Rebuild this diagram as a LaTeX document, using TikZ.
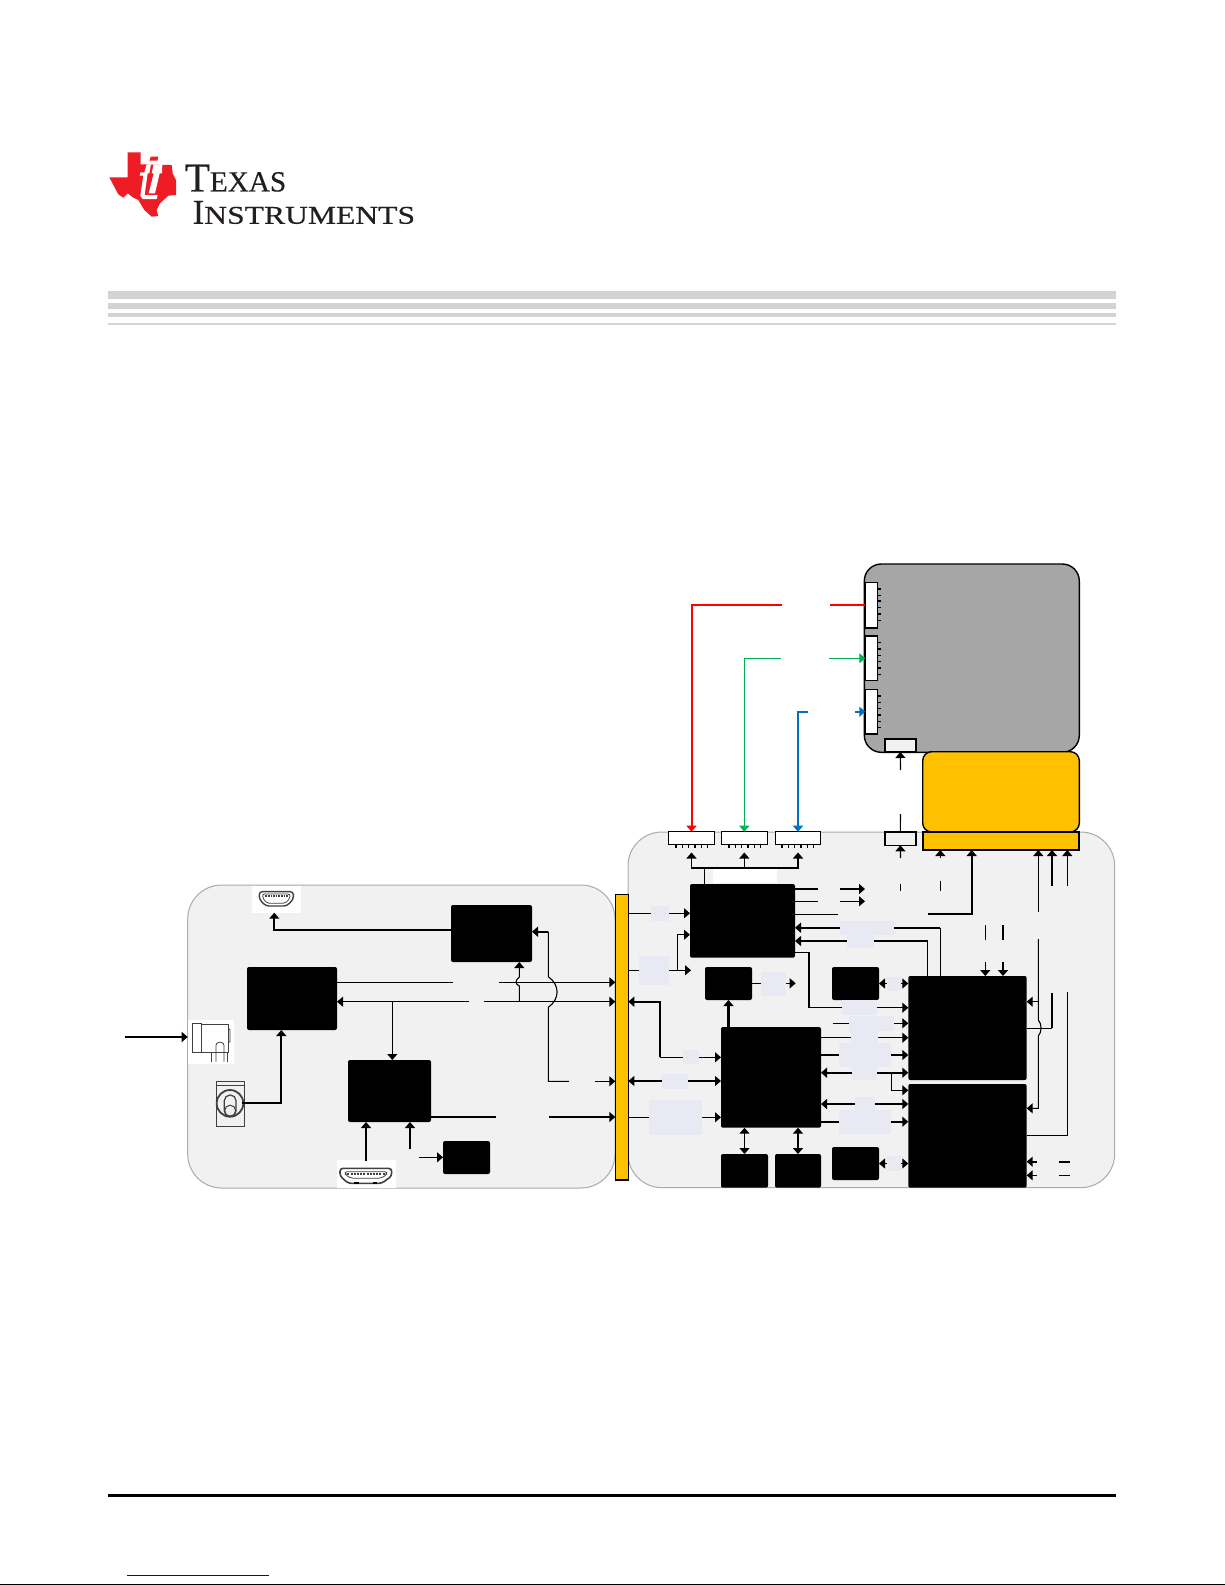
\documentclass[tikz,border=0pt]{standalone}
\usepackage{graphicx}
\usepackage{fontspec}
\setmainfont{Liberation Serif}
\newfontfamily\logofont[FakeBold=0.35]{Liberation Serif}
\usetikzlibrary{arrows.meta}
\definecolor{lav}{HTML}{E9E9F3}
\definecolor{panelfill}{HTML}{F1F1F1}
\definecolor{paneledge}{HTML}{ABABAB}
\definecolor{rulegrey}{HTML}{D3D3D3}
\definecolor{tired}{HTML}{EE1C25}
\definecolor{linkblue}{HTML}{0000D0}
\definecolor{amber}{HTML}{FFC000}
\definecolor{boardgrey}{HTML}{A6A6A6}
\definecolor{wirered}{HTML}{FF0000}
\definecolor{wiregreen}{HTML}{00B050}
\definecolor{wireblue}{HTML}{0070C0}
\definecolor{logotext}{HTML}{231F20}
\newcommand{\bx}[6][]{\node[boxbase,#1,minimum width={(#4-#2)*0.5pt},minimum height={(#5-#3)*0.5pt}] (#6) at ({(#2+#4)/2},{(#3+#5)/2}) {};}
\newcommand{\lavbox}[5]{\node[boxbase,fill=lav,minimum width={(#4-#2)*0.5pt},minimum height={(#5-#3)*0.5pt}] (#1) at ({(#2+#4)/2},{(#3+#5)/2}) {};}
\tikzset{
  boxbase/.style={rectangle,inner sep=0pt,outer sep=0pt},
  chip/.style={fill=black,rounded corners=1pt},
  panel/.style={fill=panelfill,draw=paneledge,line width=0.5pt,rounded corners=17pt},
  conn/.style={fill=white,draw=black,line width=0.7pt},
  grayconn/.style={fill=panelfill,draw=black,line width=0.8pt},
  ln/.style={line width=0.55pt,black},
  lnb/.style={line width=0.9pt,black},
  icon/.style={line width=0.4pt,black!75},
  wr/.style={line width=1pt,wirered},
  wg/.style={line width=0.6pt,wiregreen},
  wb/.style={line width=1pt,wireblue},
  >={Triangle[length=3pt,width=5pt]},
}
\begin{document}
\begin{tikzpicture}[x=0.5pt,y=-0.5pt]
\useasboundingbox (0,0) rectangle (1225,1585);
\fill[white] (0,0) rectangle (1225,1585);

% logo
\begin{scope}[shift={(105,145)},scale=1/3]
\fill[tired] (68,22) -- (107,22) -- (107,58) -- (200,60) -- (203,85) -- (213,105) -- (213,150) -- (190,152) -- (165,175) -- (155,195) -- (160,213) -- (140,215) -- (118,195) -- (100,165) -- (85,158) -- (68,145) -- (55,158) -- (40,148) -- (13,97) -- (68,97) -- cycle;
\fill[tired] (137,35) -- (160,35) -- (157,47) -- (134,47) -- cycle;
\fill[white] (125,58) -- (138,58) -- (133,85) -- (128,85) -- (119,150) -- (158,150) -- (155,162) -- (113,162) -- (106,152) -- (115,92) -- (104,92) -- (106,82) -- (118,82) -- cycle;
\fill[white] (146,58) -- (172,58) -- (171,85) -- (164,85) -- (150,145) -- (131,145) -- (146,85) -- (140,85) -- cycle;
\end{scope}
\node[boxbase,anchor=south west,align=left,text=logotext,font=\logofont\fontsize{12.8pt}{16.15pt}\selectfont] (logotxt) at (185,224)
  {{\fontsize{20.4pt}{16.15pt}\selectfont T}{\fontsize{14.6pt}{16.15pt}\selectfont EXAS}\\
   \hspace*{3.85pt}{\fontsize{17.4pt}{16.15pt}\selectfont I}\scalebox{1.235}[1]{NSTRUMENTS}};

% top grey rules
\fill[rulegrey] (108,291) rectangle (1116,299);
\fill[rulegrey] (108,303) rectangle (1116,309);
\fill[rulegrey] (108,313) rectangle (1116,317);
\fill[rulegrey] (108,323) rectangle (1116,324.7);

% footer
\fill[black] (108,1494) rectangle (1116,1497);
\fill[linkblue] (127,1574.5) rectangle (269,1575.7);
\fill[black] (0,1584) rectangle (1225,1585);

% panels
\bx[panel]{187.7}{885}{615}{1188}{leftpanel}
\bx[panel]{628}{832}{1114.7}{1187.7}{rightpanel}

% free ends of the broken connectors
\coordinate (redA) at (830,605);
\coordinate (redB) at (782,605);
\coordinate (redC) at (691.5,605);
\coordinate (grnA) at (829,658.3);
\coordinate (grnB) at (781,658.3);
\coordinate (grnC) at (744.3,658.3);
\coordinate (bluA) at (855,711.7);
\coordinate (bluB) at (808,711.7);
\coordinate (bluC) at (798,711.7);
\coordinate (upA) at (900.5,770);
\coordinate (upB) at (900.5,814);
\coordinate (upC) at (900.5,858);
\coordinate (upD) at (900.5,884);
\coordinate (upE) at (900.5,890.7);
\coordinate (pA) at (940.3,858);
\coordinate (pB) at (940.3,880.7);
\coordinate (pC) at (940.3,890.7);
\coordinate (qA) at (1038.3,911.7);
\coordinate (qB) at (1038.3,939);
\coordinate (rA) at (1052,885.7);
\coordinate (rB) at (1052,993.3);
\coordinate (sA) at (1067.3,885.7);
\coordinate (sB) at (1067.3,992);
\coordinate (tA) at (985.3,925);
\coordinate (tB) at (985.3,940);
\coordinate (tC) at (985.3,962.3);
\coordinate (uA) at (1003,925);
\coordinate (uB) at (1003,940);
\coordinate (uC) at (1003,962.3);
\coordinate (vA) at (1036.7,1161.7);
\coordinate (vB) at (1059.3,1161.7);
\coordinate (vC) at (1070,1161.7);
\coordinate (wA) at (1036.7,1175.3);
\coordinate (wB) at (1059.3,1175.3);
\coordinate (wC) at (1070,1175.3);
\coordinate (aA) at (818,889);
\coordinate (aB) at (840,889);
\coordinate (aC) at (865,889);
\coordinate (bA) at (818,901.3);
\coordinate (bB) at (840,901.3);
\coordinate (bC) at (865,901.3);
\coordinate (cA) at (837.7,914.3);
\coordinate (cB) at (928.3,914.3);
\coordinate (dA) at (833,1023.3);
\coordinate (ePw) at (124.7,1037);
\coordinate (fA) at (453.3,982.3);
\coordinate (fB) at (499.3,982.3);
\coordinate (gA) at (469,1001.7);
\coordinate (gB) at (484,1001.7);
\coordinate (hA) at (569,1081.3);
\coordinate (hB) at (595,1081.3);
\coordinate (iA) at (495.7,1117);
\coordinate (iB) at (549,1117);
\coordinate (jA) at (366,1161);
\coordinate (kA) at (410,1148.7);
\coordinate (lA) at (419,1157.3);
\coordinate (mA) at (241.7,1103.3);
\coordinate (nA) at (795.7,983.3);
\coordinate (oA) at (691,970.3);

% grey board and yellow module
\bx[fill=boardgrey,draw=black,line width=0.7pt,rounded corners=8.5pt]{864.3}{564}{1079.3}{752.3}{board}
\bx[fill=amber,draw=black,line width=0.7pt,rounded corners=4.5pt]{922.7}{751.7}{1079.3}{832}{module}
\bx[fill=amber,draw=black,line width=1pt]{922.7}{832}{1079.3}{850}{strip}
\bx[fill=amber,draw=black,line width=0.6pt]{615.3}{894.3}{628.3}{1180}{bar}

% board connectors with pins
\bx[conn]{865.3}{582.3}{877.7}{628}{cbA}
\bx[conn]{865.3}{636}{877.7}{680.7}{cbB}
\bx[conn]{865.3}{689.3}{877.7}{734}{cbC}
\foreach \yy/\ww in {588.7/0.9,595/0.5,601.3/0.9,607.7/0.5,614/0.9,620.3/0.5,
                     642.3/0.5,648.7/0.9,655/0.5,661.3/0.5,667.7/0.9,674/0.5,
                     695.7/0.9,702/0.5,708.3/0.5,714.7/0.9,721/0.5,727.3/0.5}
  \draw[line width=\ww pt] (877.7,\yy) -- (881,\yy);
\bx[grayconn]{884.7}{738.7}{916}{752}{cbD}

% main board connectors with pins
\bx[conn]{668.3}{831.7}{714.7}{844.7}{mcA}
\bx[conn]{721.3}{831.7}{767.3}{844.7}{mcB}
\bx[conn]{775.3}{831.7}{820.7}{844.7}{mcC}
\foreach \st in {676,729,782}
  \foreach \ii in {0,...,5}
    \draw[line width=0.6pt] ({\st+6.3*\ii},844.7) -- ({\st+6.3*\ii},848.3);
\bx[grayconn]{884.7}{831.7}{916}{845.3}{mcD}

% chips
\bx[chip]{690}{884}{795}{957.7}{chipA}
\bx[chip]{705}{967}{752}{1000}{chipB}
\bx[chip]{832}{967}{879}{1000}{chipC}
\bx[chip]{721}{1027}{821}{1127.7}{chipD}
\bx[chip]{721}{1154}{768}{1187.7}{chipE}
\bx[chip]{775}{1154}{821}{1187.7}{chipF}
\bx[chip]{832}{1147}{879}{1180}{chipG}
\bx[chip]{908.3}{976}{1026.7}{1080}{procA}
\bx[chip]{908.3}{1084}{1026.7}{1187.7}{procB}
\bx[chip]{247}{967}{337}{1030}{chipP}
\bx[chip]{348}{1060}{431}{1122}{chipQ}
\bx[chip]{451}{905}{532}{962}{chipR}
\bx[chip]{443}{1141}{490}{1174}{chipS}
\bx[fill=white]{713}{869.3}{777}{883.3}{whitetag}

% wires between boards
\draw[wr] (cbA.west |- redA) -- (redA);
\draw[wr,->] (redB) -- (redC) -- (mcA.north);
\draw[wg,->] (grnA) -- (cbB.west |- grnA);
\draw[wg,->] (grnB) -- (grnC) -- (mcB.north);
\draw[wb,->] (bluA) -- (cbC.west |- bluA);
\draw[wb,->] (bluB) -- (bluC) -- (mcC.north);
\draw[ln,->] (upA) -- (cbD.south);
\draw[ln] (upB) -- (mcD.north);
\draw[ln,->] (upC) -- (mcD.south);
\draw[ln] (upD) -- (upE);

% right panel: connections to module strip
\draw[ln,->] (pA) -- (strip.south -| pA);
\draw[ln] (pB) -- (pC);
\draw[lnb,->] (cB) -- (971.7,914.3) -- (strip.south -| 971.7,0);
\draw[ln,->] (qA) -- (strip.south -| qA);
\draw[lnb,->] (rA) -- (strip.south -| rA);
\draw[ln,->] (sA) -- (strip.south -| sA);
\draw[ln,->] (qB) -- (1038.3,1020) .. controls (1042,1024) and (1042,1032) .. (1038.3,1036) -- (1038.3,1108.3) -- (procB.east |- 0,1108.3);
\draw[ln,->] (1038.3,1001.7) -- (procA.east |- 0,1001.7);
\draw[lnb] (rB) -- (1052,1028.3);
\draw[ln] (1052,1028.3) -- (procA.east |- 0,1028.3);
\draw[ln] (sB) -- (1067.3,1135.3) -- (procB.east |- 0,1135.3);
\draw[lnb,->] (vA) -- (procB.east |- vA);
\draw[lnb] (vB) -- (vC);
\draw[ln,->] (wA) -- (procB.east |- wA);
\draw[ln] (wB) -- (wC);
\draw[ln] (tA) -- (tB);
\draw[ln,->] (tC) -- (procA.north -| tC);
\draw[lnb] (uA) -- (uB);
\draw[lnb,->] (uC) -- (procA.north -| uC);

% right panel: chip A
\draw[lnb,<->] (mcA.south |- 0,852.5) -- (mcA.south |- 0,867.7) -- (mcC.south |- 0,867.7) -- (mcC.south |- 0,852.5);
\draw[ln,->] (mcB.south |- 0,867.7) -- (mcB.south |- 0,852.5);
\draw[ln] (chipA.north -| 704.3,0) -- (704.3,867.7);
\draw[lnb] (chipA.east |- aA) -- (aA);
\draw[lnb,->] (aB) -- (aC);
\draw[ln] (chipA.east |- bA) -- (bA);
\draw[ln,->] (bB) -- (bC);
\draw[ln] (chipA.east |- cA) -- (cA);
\draw[lnb,<-] (chipA.east |- 0,927.7) -- (940.3,927.7);
\draw[ln] (940.3,927.7) -- (procA.north -| 940.3,0);
\draw[ln,<-] (chipA.east |- 0,941) -- (927.3,941) -- (procA.north -| 927.3,0);
\draw[ln,->] (chipA.east |- 0,952.3) -- (809,952.3) -- (809,1007.7) -- (procA.west |- 0,1007.7);
\draw[ln,->] (bar.east |- 0,913.3) -- (chipA.west |- 0,913.3);
\draw[ln,->] (bar.east |- oA) -- (oA);
\draw[ln,->] (677.3,970.3) -- (677.3,934.7) -- (chipA.west |- 0,934.7);

% right panel: chip B, C, G, D
\draw[line width=1.1pt,->] (chipD.north -| chipB.south) -- (chipB.south);
\draw[ln,->] (chipB.east |- nA) -- (nA);
\draw[ln,<->] (chipC.east) -- (procA.west |- chipC.east);
\draw[ln,<->] (chipG.east) -- (procB.west |- chipG.east);
\draw[lnb,<-] (bar.east |- 0,1001.7) -- (660,1001.7) -- (660,1057.3);
\draw[ln] (660,1057.3) -- (683,1057.3);
\draw[ln,->] (660,1057.3) -- (chipD.west |- 0,1057.3);
\draw[ln,<->] (bar.east |- 0,1081) -- (chipD.west |- 0,1081);
\draw[ln,->] (bar.east |- 0,1117.3) -- (chipD.west |- 0,1117.3);
\draw[ln,<->] (chipD.south -| chipE.north) -- (chipE.north);
\draw[lnb,<->] (chipD.south -| chipF.north) -- (chipF.north);
\draw[ln,->] (chipD.east |- 0,1037.7) -- (procA.west |- 0,1037.7);
\draw[lnb,->] (chipD.east |- 0,1055) -- (procA.west |- 0,1055);
\draw[lnb,<->] (chipD.east |- 0,1072.7) -- (procA.west |- 0,1072.7);
\draw[ln,->] (891.3,1072.7) -- (891.3,1090.3) -- (procB.west |- 0,1090.3);
\draw[lnb,<->] (chipD.east |- 0,1104) -- (procB.west |- 0,1104);
\draw[lnb,->] (chipD.east |- 0,1121.7) -- (procB.west |- 0,1121.7);
\draw[ln,->] (dA) -- (procA.west |- dA);

% lavender labels over the wires
\lavbox{la}{840}{921}{894}{935}
\lavbox{lb}{847}{935}{874}{948}
\lavbox{lc}{842}{1000.3}{877}{1015}
\lavbox{ld}{651}{906}{669}{920.7}
\lavbox{le}{639}{956}{669}{985}
\lavbox{lf}{761}{972}{786}{996}
\lavbox{lg}{887}{977}{901}{991}
\lavbox{lh}{887}{1156}{901}{1171}
\lavbox{li}{683}{1050}{699}{1064}
\lavbox{lj}{662}{1074}{688}{1088.7}
\lavbox{lk}{649}{1100}{702}{1135}
\lavbox{ll}{849}{1016}{894}{1031}
\lavbox{lm}{851}{1031}{878}{1043.3}
\lavbox{ln1}{839}{1043.3}{891}{1067}
\lavbox{ln2}{852}{1067}{877}{1080}
\lavbox{lo}{855}{1097}{875}{1110}
\lavbox{lp}{839}{1110}{891}{1134}

% left panel icons
\bx[fill=white]{187.7}{1020}{233.7}{1063.7}{jackbg}
\bx[fill=white]{252}{885.5}{301}{912.7}{hdmiAbg}
\bx[fill=white]{337}{1160}{396}{1188}{hdmiBbg}
\begin{scope}[shift={(110,870)},scale=1/3]
\draw[icon] (248,460) rectangle (275,547);
\draw[icon] (275,463) -- (355,463) -- (355,547) -- (275,547);
\draw[icon] (355,475) -- (360,480) -- (360,515) -- (355,518);
\draw[icon] (303,547) -- (303,575);
\draw[icon] (352,547) -- (352,575);
\draw[icon,rounded corners=1.5pt] (318,575) -- (318,517) -- (342,517) -- (342,575);
\draw[icon] (320,635) rectangle (403,768);
\draw[icon] (320,645) -- (403,645);
\draw[icon,line width=0.9pt] (360,700) circle (40);
\draw[icon,line width=0.6pt,rounded corners=2.8pt] (343,675) rectangle (378,740);
\draw[icon,line width=0.5pt] (360.5,722) circle (16.5);
\draw[icon,line width=0.7pt,rounded corners=1.5pt,fill=white] (448,65) -- (550,65) -- (550,88) -- (530,108) -- (468,108) -- (448,88) -- cycle;
\draw[icon,rounded corners=1pt] (458,72) -- (540,72) -- (540,85) -- (525,100) -- (472,100) -- (458,85) -- cycle;
\draw[icon,dash pattern=on 0.8pt off 0.5pt,line width=0.7pt] (466,78) -- (533,78);
\draw[icon,line width=0.8pt,rounded corners=1.5pt,fill=white] (690,895) -- (845,895) -- (845,918) -- (815,940) -- (715,940) -- (690,918) -- cycle;
\draw[icon,rounded corners=1pt] (706,905) -- (830,905) -- (830,915) -- (810,925) -- (725,925) -- (706,915) -- cycle;
\draw[icon,dash pattern=on 1pt off 0.6pt,line width=0.9pt] (712,911) -- (825,911);
\draw[black,line width=1pt] (733,939) -- (747,939);
\draw[black,line width=1pt] (788,939) -- (802,939);
\end{scope}

% left panel wires
\draw[lnb,->] (ePw) -- (leftpanel.west |- ePw);
\draw[lnb,->] (chipR.west |- 0,930) -- (274.3,930) -- (hdmiAbg.south -| 274.3,0);
\draw[lnb,->] (mA) -- (281.3,1103.3) -- (chipP.south -| 281.3,0);
\draw[ln] (chipP.east |- fA) -- (fA);
\draw[ln,->] (fB) -- (bar.west |- fB);
\draw[ln,<-] (chipP.east |- gA) -- (gA);
\draw[ln,->] (gB) -- (bar.west |- gB);
\draw[ln,->] (392.3,1001.7) -- (chipQ.north -| 392.3,0);
\draw[ln,->] (519.3,1001.7) -- (519.3,986) .. controls (515,984) and (515,980) .. (519.3,977) -- (chipR.south -| 519.3,0);
\draw[lnb,<-] (chipR.east |- 0,931.7) -- (548.3,931.7);
\draw[ln] (548.3,931.7) -- (548.3,976.7) .. controls (560,985) and (560,999) .. (548.3,1007.3) -- (548.3,1081.3) -- (hA);
\draw[ln,->] (hB) -- (bar.west |- hB);
\draw[lnb] (chipQ.east |- iA) -- (iA);
\draw[lnb,->] (iB) -- (bar.west |- iB);
\draw[lnb,->] (jA) -- (chipQ.south -| jA);
\draw[lnb,->] (kA) -- (chipQ.south -| kA);
\draw[ln,->] (lA) -- (chipS.west |- lA);
\end{tikzpicture}
\end{document}
